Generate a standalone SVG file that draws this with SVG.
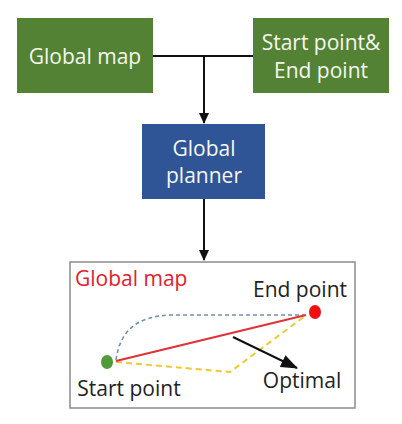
<svg xmlns="http://www.w3.org/2000/svg" width="402" height="424" viewBox="0 0 402 424">
<style>
.t{font-family:"Open Sans","Noto Sans","Liberation Sans",sans-serif;font-size:21px;text-anchor:middle}
.w{fill:#f4f8ee}
.k{fill:#222}
.ln{stroke:#111;stroke-width:2;fill:none}
</style>
<defs>
<marker id="ah" markerWidth="11" markerHeight="10" refX="10" refY="5" orient="auto" markerUnits="userSpaceOnUse">
<path d="M0,0 L11,5 L0,10 Z" fill="#111"/>
</marker>
<marker id="ah2" markerWidth="17" markerHeight="13" refX="16" refY="6.5" orient="auto" markerUnits="userSpaceOnUse">
<path d="M0,0 L17,6.5 L0,13 Z" fill="#111"/>
</marker>
</defs>
<rect width="402" height="424" fill="#fff"/>
<g id="connectors">
<path class="ln" d="M153,56 H253"/>
<path class="ln" d="M204,56 V123" marker-end="url(#ah)"/>
<path class="ln" d="M204,199 V260" marker-end="url(#ah)"/>
</g>
<g id="global-map">
<rect x="17" y="18" width="136" height="75" fill="#548235"/>
<text class="t w" x="85" y="64">Global map</text>
</g>
<g id="start-end">
<rect x="253" y="18" width="136" height="75" fill="#548235"/>
<text class="t w" x="321" y="50">Start point&amp;</text>
<text class="t w" x="321" y="78">End point</text>
</g>
<g id="global-planner">
<rect x="142" y="124" width="123" height="75" fill="#2f5597"/>
<text class="t w" x="204" y="156">Global</text>
<text class="t w" x="204" y="183">planner</text>
</g>
<g id="map">
<rect x="70" y="262" width="285" height="146" fill="#fff" stroke="#8a8a8a" stroke-width="1.5"/>
<text class="t" x="75" y="286" fill="#e0202c" style="text-anchor:start">Global map</text>
<path d="M116,360 C120,332 135,316 172,315 L304,315" fill="none" stroke="#6f8fae" stroke-width="1.5" stroke-dasharray="4,3"/>
<path d="M116,362 L230,372 L305,316" fill="none" stroke="#f0c830" stroke-width="2" stroke-dasharray="6,4"/>
<path d="M116,361 L306,315" fill="none" stroke="#e03038" stroke-width="2"/>
<path d="M233,337 L297,368" class="ln" marker-end="url(#ah2)"/>
<ellipse cx="107" cy="362" rx="6" ry="7" fill="#4f9a3a"/>
<ellipse cx="315" cy="312" rx="6" ry="7" fill="#f01010"/>
<text class="t k" x="300" y="297">End point</text>
<text class="t k" x="302" y="388">Optimal</text>
<text class="t k" x="129" y="396">Start point</text>
</g>
</svg>
